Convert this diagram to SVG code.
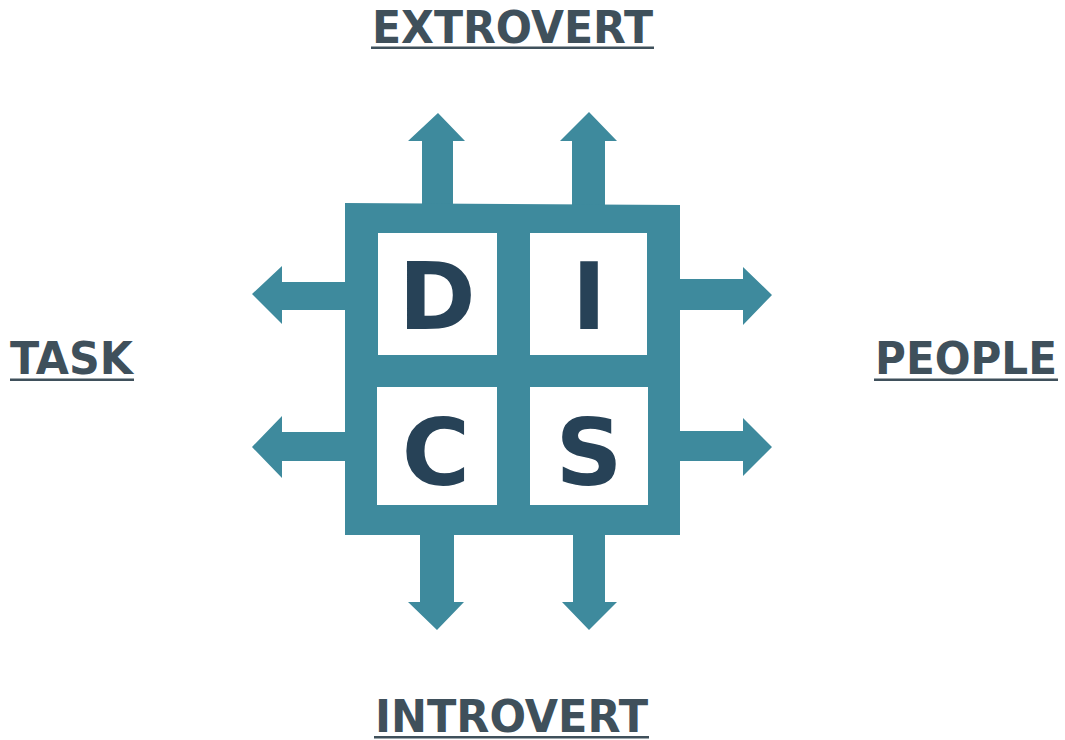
<svg xmlns="http://www.w3.org/2000/svg" width="1065" height="740" viewBox="0 0 1065 740">
<style>
.teal{fill:#3e8a9d}
.lbl{font-family:"DejaVu Sans",sans-serif;font-weight:bold;font-size:44px;fill:#3f505b}
.ul{fill:#3f505b}
.ltr{font-family:"DejaVu Sans",sans-serif;font-weight:bold;font-size:93px;fill:#274257;text-anchor:middle}
</style>
<rect width="1065" height="740" fill="#ffffff"/>
<g id="connectors" class="teal">
<polygon points="422,205 422,141 408,141 438,113 465,141 453,141 453,205"/>
<polygon points="572,205 572,141 560,141 589,112 617,141 605,141 605,205"/>
<polygon points="420,533 420,602 408,602 437,630 464,602 454,602 454,533"/>
<polygon points="573,533 573,602 562,602 589,630 617,602 605,602 605,533"/>
<polygon points="347,282 282,282 282,266 252,294 282,324 282,310 347,310"/>
<polygon points="347,432 282,432 282,416 252,447 282,478 282,461 347,461"/>
<polygon points="678,279 743,279 743,267 772,295 743,325 743,310 678,310"/>
<polygon points="678,431 743,431 743,418 772,447 743,476 743,461 678,461"/>
</g>
<g id="frame">
<path class="teal" fill-rule="evenodd" d="M345,203 L680,205 L680,535 L345,535 Z M378,233 L497,233 L497,355 L378,355 Z M530,233 L647,233 L647,355 L530,355 Z M377,387 L497,387 L497,505 L377,505 Z M530,387 L648,387 L648,505 L530,505 Z"/>
</g>
<g id="node-d"><text class="ltr" x="437" y="329">D</text></g>
<g id="node-i"><text class="ltr" x="589" y="329">I</text></g>
<g id="node-c"><text class="ltr" x="436" y="485">C</text></g>
<g id="node-s"><text class="ltr" x="589" y="485">S</text></g>
<g id="label-extrovert">
<text class="lbl" x="372" y="43" textLength="281" lengthAdjust="spacingAndGlyphs">EXTROVERT</text>
<rect class="ul" x="371" y="46.5" width="283" height="2.5"/>
</g>
<g id="label-task">
<text class="lbl" x="10" y="374" textLength="123" lengthAdjust="spacingAndGlyphs">TASK</text>
<rect class="ul" x="10" y="378.5" width="124" height="2.5"/>
</g>
<g id="label-people">
<text class="lbl" x="875" y="374" textLength="182" lengthAdjust="spacingAndGlyphs">PEOPLE</text>
<rect class="ul" x="874" y="378.5" width="184" height="2.5"/>
</g>
<g id="label-introvert">
<text class="lbl" x="375" y="732" textLength="273" lengthAdjust="spacingAndGlyphs">INTROVERT</text>
<rect class="ul" x="374" y="736" width="275" height="2.5"/>
</g>
</svg>
